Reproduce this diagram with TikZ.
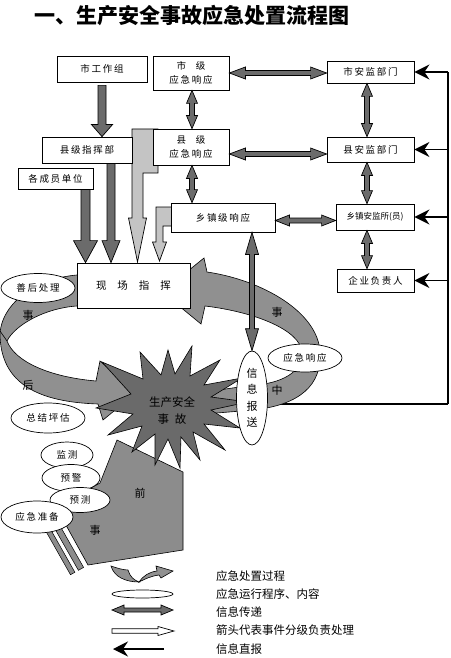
\documentclass[tikz,border=0pt]{standalone}
\usepackage{fontspec}
\usetikzlibrary{shapes.geometric,arrows.meta,calc}
\newfontfamily\cjk{Noto Sans CJK SC}
\newfontfamily\cjksp[LetterSpace=18]{Noto Sans CJK SC}
\definecolor{dgray}{HTML}{6B6B6B}
\definecolor{rgray}{HTML}{909090}
\definecolor{sgray}{HTML}{6A6A6A}
\definecolor{lgray}{HTML}{C4C4C4}
\definecolor{agray}{HTML}{8C8C8C}
\tikzset{
  ahl/.store in=\ahl, ahw/.store in=\ahw, asw/.store in=\asw,
  ahl=13pt, ahw=6pt, asw=2.5pt,
  blk/.style={fill=dgray, draw=black, line width=0.7pt, line join=miter},
  vdbl/.style={blk, to path={let \p1=(\tikztostart), \p2=(\tikztotarget) in
     (\x1,\y1) -- (\x1+\ahw,\y1-\ahl) -- (\x1+\asw,\y1-\ahl) -- (\x1+\asw,\y2+\ahl) -- (\x1+\ahw,\y2+\ahl) -- (\x1,\y2) -- (\x1-\ahw,\y2+\ahl) -- (\x1-\asw,\y2+\ahl) -- (\x1-\asw,\y1-\ahl) -- (\x1-\ahw,\y1-\ahl) -- cycle}},
  hdbl/.style={blk, to path={let \p1=(\tikztostart), \p2=(\tikztotarget) in
     (\x1,\y1) -- (\x1+\ahl,\y1+\ahw) -- (\x1+\ahl,\y1+\asw) -- (\x2-\ahl,\y1+\asw) -- (\x2-\ahl,\y1+\ahw) -- (\x2,\y1) -- (\x2-\ahl,\y1-\ahw) -- (\x2-\ahl,\y1-\asw) -- (\x1+\ahl,\y1-\asw) -- (\x1+\ahl,\y1-\ahw) -- cycle}},
  vsgl/.style={blk, to path={let \p1=(\tikztostart), \p2=(\tikztotarget) in
     (\x1-\asw,\y1) -- (\x1+\asw,\y1) -- (\x1+\asw,\y2+\ahl) -- (\x1+\ahw,\y2+\ahl) -- (\x1,\y2) -- (\x1-\ahw,\y2+\ahl) -- (\x1-\asw,\y2+\ahl) -- cycle}},
  hsgl/.style={blk, to path={let \p1=(\tikztostart), \p2=(\tikztotarget) in
     (\x1,\y1+\asw) -- (\x2-\ahl,\y1+\asw) -- (\x2-\ahl,\y1+\ahw) -- (\x2,\y1) -- (\x2-\ahl,\y1-\ahw) -- (\x2-\ahl,\y1-\asw) -- (\x1,\y1-\asw) -- cycle}},
  box/.style={draw, line width=0.8pt, fill=white, inner sep=0pt, align=center,
     font=\cjksp\fontsize{9.5}{13.5}\selectfont},
  oval/.style={ellipse, draw, line width=0.7pt, fill=white, inner sep=0pt,
     font=\cjksp\fontsize{9.5}{12}\selectfont},
  lbl/.style={inner sep=0pt, font=\cjk\fontsize{11}{12}\selectfont},
  legtxt/.style={anchor=west, inner sep=0pt, font=\cjk\fontsize{11.5}{12}\selectfont},
  fbline/.style={line width=1.5pt, draw=black},
  fbarr/.style={fbline, -{Stealth[length=15pt,width=15pt,inset=5pt]}},
  lgarrow/.style={fill=lgray, draw=black, line width=0.7pt},
  ring/.style={fill=rgray, draw=black, line width=0.6pt},
}
\begin{document}
\begin{tikzpicture}[x=1pt,y=-1pt]
\useasboundingbox (0,0) rectangle (450,658);
\fill[white] (0,0) rectangle (450,658);

% title
\node[anchor=west, inner sep=0pt, font=\cjk\bfseries\fontsize{21}{21}\selectfont] (title) at (34,16) {一、生产安全事故应急处置流程图};

% bottom feedback line (behind the ring)
\coordinate (fbA) at (448,404);
\coordinate (fbL) at (262,404);
\draw[fbline] (fbL) -- (fbA);

% light grey L-shaped arrows
\draw[lgarrow] (132,129) -- (158,129) -- (158,173) -- (143,173) -- (143,218) -- (146.5,218) -- (137.5,262) -- (128.5,218) -- (132,218) -- cycle;
\draw[lgarrow] (156,207) -- (176,207) -- (176,226) -- (163,226) -- (163,242) -- (166.5,242) -- (159.5,261) -- (152.5,242) -- (156,242) -- cycle;

% ring: right part
\draw[ring] (205,414) -- (253,410) .. controls (300,405) and (322,385) .. (320,352)
  .. controls (318,312) and (262,280) .. (207,272) -- (204,258) -- (162,292) -- (201,324) -- (205,306)
  .. controls (255,312) and (300,330) .. (302,352) .. controls (304,372) and (280,384) .. (253,385)
  -- (205,392) -- cycle;
% ring: left part
\draw[ring] (90,275) -- (77,275) .. controls (40,278) and (3,300) .. (0,333)
  .. controls (0,385) and (40,402) .. (98,404) -- (103,420) -- (136,393) -- (100,361) -- (96,381)
  .. controls (50,377) and (15,362) .. (7,341) .. controls (15,325) and (45,308) .. (77,306)
  -- (90,306) -- cycle;
\draw[line width=0.6pt] (0,331) -- (7,341);

% big arrow
\draw[fill=agray, draw=black, line width=0.6pt] (56,507) -- (100,483) -- (117,440) -- (183,472) -- (183,550) -- (88,565) -- cycle;
\draw[fill=agray, draw=black, line width=0.5pt] (83.6,567.4) -- (78.4,570.3) -- (50.2,520.6) -- (55.4,517.7) -- cycle;
\draw[fill=agray, draw=black, line width=0.5pt] (74.9,572.3) -- (70.5,574.7) -- (42.3,524.9) -- (46.7,522.5) -- cycle;

% star
\draw[fill=sgray, draw=black, line width=0.6pt]
 (102,362) -- (143,379) -- (140,352) -- (161,375) -- (168,350) -- (175,374) -- (192,346) -- (190,376)
 -- (220,360) -- (204,385) -- (242,378) -- (211,397) -- (248,402) -- (211,410) -- (240,428) -- (204,424)
 -- (225,450) -- (193,432) -- (200,460) -- (181,437) -- (180,468) -- (168,439) -- (155,465) -- (155,434)
 -- (132,452) -- (142,426) -- (108,435) -- (133,414) -- (96,408) -- (131,394) -- cycle;
\node[inner sep=0pt, align=center, font=\cjk\fontsize{11.5}{17}\selectfont] (star) at (172,411) {生产安全\\事\hspace{6pt}故};

% boxes
\node[box, minimum width=90pt, minimum height=26pt] (sgzz) at (102,69) {市工作组};
\node[box, minimum width=76pt, minimum height=34pt] (sjxy) at (191,73) {市\hspace{10pt}级\\应急响应};
\node[box, minimum width=87pt, minimum height=22pt] (sajb) at (370.5,72) {市安监部门};
\node[box, minimum width=90pt, minimum height=26pt] (xjzh) at (87,150) {县级指挥部};
\node[box, minimum width=76pt, minimum height=36pt] (xjxy) at (191,147) {县\hspace{10pt}级\\应急响应};
\node[box, minimum width=87pt, minimum height=25pt] (xajb) at (370.5,149.5) {县安监部门};
\node[box, minimum width=75pt, minimum height=21pt] (cydw) at (55.5,178.5) {各成员单位};
\node[box, minimum width=104pt, minimum height=29pt] (xzxy) at (223,217.5) {乡镇级响应};
\node[box, minimum width=78pt, minimum height=26pt, font=\cjk\fontsize{8.5}{10}\selectfont] (xzajs) at (375,217) {乡镇安监所(员)};
\node[box, minimum width=77pt, minimum height=23pt] (qyfzr) at (375.5,280.5) {企业负责人};
\node[box, minimum width=113pt, minimum height=45pt, font=\cjk\fontsize{10.5}{12}\selectfont] (xczh) at (133.5,285.5) {现\hspace{11pt}场\hspace{11pt}指\hspace{11pt}挥};

% ellipses
\node[oval, minimum width=74pt, minimum height=29pt] (shcl) at (38,288) {善后处理};
\node[oval, minimum width=74pt, minimum height=28pt] (yjxy) at (305,358) {应急响应};
\node[oval, minimum width=74pt, minimum height=30pt] (zjpg) at (48,418) {总结坪估};
\node[oval, minimum width=52pt, minimum height=26pt] (jc) at (67,455) {监测};
\node[oval, minimum width=58pt, minimum height=27pt] (yj) at (71,478) {预警};
\node[oval, minimum width=60pt, minimum height=25pt] (yc) at (80,500) {预测};
\node[oval, minimum width=72pt, minimum height=32pt] (yjzb) at (37,517) {应急准备};
\node[oval, minimum width=31pt, minimum height=94pt, align=center, font=\cjk\fontsize{11}{16.5}\selectfont] (xxbs) at (252,398) {信\\息\\报\\送};

% information arrows
\draw[hdbl, ahl=16pt, ahw=6pt, asw=2.5pt] (sjxy.east) to (sajb.west);
\draw[hdbl, ahl=16pt, ahw=6pt, asw=2.5pt] ($(xjxy.east)+(0,7)$) to (xajb.west);
\draw[hdbl, ahl=14pt, ahw=5.5pt, asw=2.5pt] ($(xzxy.east)+(0,3)$) to (xzajs.west);
\draw[vdbl, ahl=13pt, ahw=5.5pt, asw=2.5pt] ($(sjxy.south)+(1,0)$) to (xjxy.north);
\draw[vdbl, ahl=13pt, ahw=5.5pt, asw=2.5pt] ($(xjxy.south)+(1,0)$) to (xzxy.north);
\draw[vdbl, ahl=13pt, ahw=5.5pt, asw=2.5pt] ($(sajb.south)+(-3.5,0)$) to (xajb.north);
\draw[vdbl, ahl=13pt, ahw=5.5pt, asw=2.5pt] ($(xajb.south)+(-3.5,0)$) to (xzajs.north);
\draw[vdbl, ahl=13pt, ahw=5.5pt, asw=2.5pt] ($(xzajs.south)+(-8,0)$) to (qyfzr.north);
\draw[vdbl, ahl=22pt, ahw=6.5pt, asw=2.5pt] (xzxy.south -| xxbs.north) to (xxbs.north);

% command arrows
\draw[vsgl, ahl=12pt, ahw=10.5pt, asw=4pt] ($(sgzz.south)+(0,3)$) to (xjzh.north);
\draw[vsgl, ahl=22pt, ahw=9pt, asw=4pt] ($(xjzh.south)+(24,0)$) to (xczh.north);
\draw[vsgl, ahl=22pt, ahw=12pt, asw=4.5pt] ($(cydw.south)+(30,0)$) to (xczh.north);

% direct report line
\draw[fbline] (fbA) -- (fbA |- sajb.east);
\draw[fbarr] (fbA |- sajb.east) -- (sajb.east);
\draw[fbarr] (fbA |- xajb.east) -- (xajb.east);
\draw[fbarr] (fbA |- xzajs.east) -- (xzajs.east);
\draw[fbarr] (fbA |- qyfzr.east) -- (qyfzr.east);

% ring labels
\node[lbl] (l1) at (28,315) {事};
\node[lbl] (l2) at (28,385) {后};
\node[lbl] (l3) at (277,312) {事};
\node[lbl] (l4) at (277,390) {中};
\node[lbl] (l5) at (140,493) {前};
\node[lbl] (l6) at (95,530) {事};

% legend
\draw[ring] (111,566) .. controls (117,568) and (123,570) .. (128,570) .. controls (130,577) and (134,580) .. (139,582) .. controls (126,582) and (114,577) .. (111,566) -- cycle;
\draw[ring] (139,582) .. controls (143,576) and (149,572) .. (157,571) -- (156,566) -- (173,571) -- (161,578) -- (159,575) .. controls (151,576) and (145,579) .. (139,582) -- cycle;
\node[legtxt] (t1) at (216,576) {应急处置过程};
\node[ellipse, draw, line width=0.7pt, fill=white, minimum width=61pt, minimum height=8pt, inner sep=0pt] (leg2) at (142.5,594) {};
\node[legtxt] (t2) at (216,594) {应急运行程序、内容};
\coordinate (L3a) at (112,610);
\coordinate (L3b) at (173,610);
\draw[hdbl, ahl=12pt, ahw=5pt, asw=2pt] (L3a) to (L3b);
\node[legtxt] (t3) at (216,612) {信息传递};
\coordinate (L4a) at (112,631);
\coordinate (L4b) at (174,631);
\draw[hsgl, fill=white, ahl=16pt, ahw=4.5pt, asw=2.2pt] (L4a) to (L4b);
\node[legtxt] (t4) at (216,630) {箭头代表事件分级负责处理};
\coordinate (L5a) at (164,649);
\coordinate (L5b) at (113,649);
\draw[fbarr] (L5a) -- (L5b);
\node[legtxt] (t5) at (216,649) {信息直报};
\end{tikzpicture}
\end{document}
